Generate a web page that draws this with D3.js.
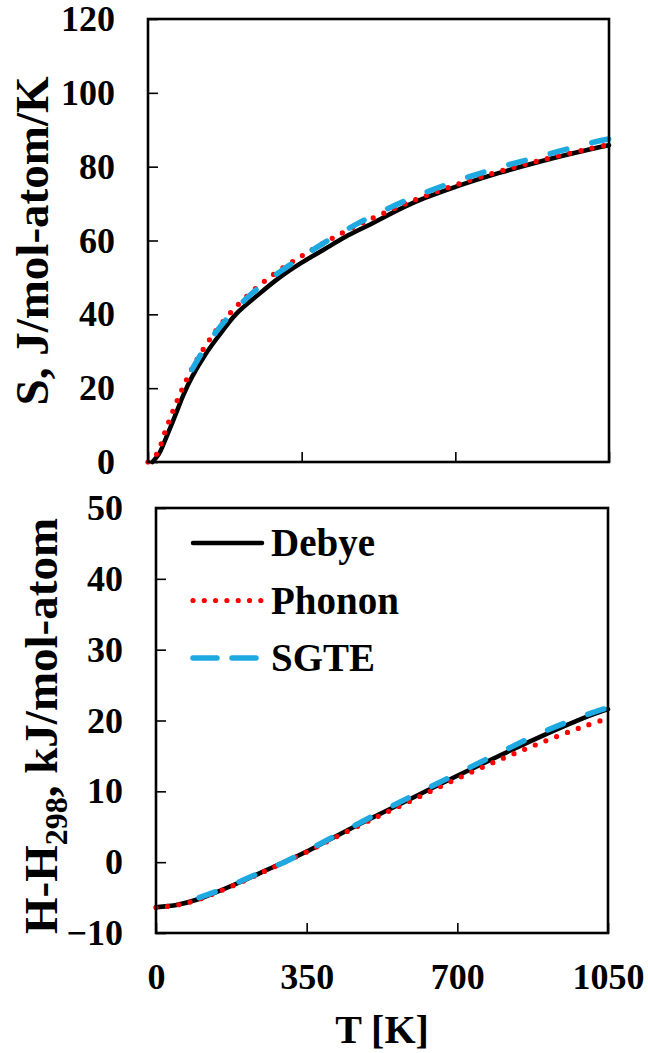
<!DOCTYPE html>
<html>
<head>
<meta charset="utf-8">
<title>S and H-H298 vs T</title>
<style>
    body { margin: 0; background: #fff; }
    svg text { font-family: "Liberation Serif", "Times New Roman", serif; font-weight: bold; fill: #000; }
    .axis path.domain { display: none; }
    .axis line { stroke: #000; stroke-width: 1.6px; }
    .axis text { font-size: 36px; }
    .frame { fill: none; stroke: #000; stroke-width: 2.6px; }
</style>
</head>
<body>
<script src="https://cdn.jsdelivr.net/npm/d3@7"></script>
<script>
// ---- data ----
// entropy, J/mol-atom/K
var tempSDebye  = [10, 25, 40, 60, 80, 100, 130, 160, 200, 250, 300, 350, 400, 450, 500, 600, 700, 800, 900, 1000, 1050];
var sDebye      = [0, 2.2, 6.2, 12, 18, 23, 29, 34, 40, 45.2, 50, 54, 57.5, 61, 64, 70, 74.5, 78.3, 81.6, 84.5, 85.8];
var tempSPhonon = [0, 20, 40, 60, 80, 100, 130, 160, 200, 250, 300, 350, 400, 450, 500, 600, 700, 800, 900, 1000, 1050];
var sPhonon     = [0, 2.2, 8.6, 14.8, 20.3, 25.3, 31.3, 36.4, 42, 47.5, 52, 55.8, 59.3, 62.5, 65.4, 70.6, 75, 78.7, 81.9, 84.7, 86];
var tempSSgte   = [100, 130, 160, 200, 250, 300, 350, 400, 450, 500, 600, 700, 800, 900, 1000, 1050];
var sSgte       = [25, 31, 36, 41.5, 47, 51.5, 55.5, 59.3, 62.8, 66, 71.5, 76, 79.8, 83, 86.2, 87.5];

// enthalpy H-H298, kJ/mol-atom
var tempH       = [0, 50, 100, 150, 200, 250, 298, 350, 400, 500, 600, 700, 800, 900, 1000, 1050];
var hDebye      = [-6.35, -6.0, -5.2, -4.0, -2.7, -1.3, 0, 1.5, 3.1, 6.2, 9.2, 12.2, 15.1, 17.9, 20.5, 21.6];
var hPhonon     = [-6.4, -6.05, -5.25, -4.05, -2.75, -1.35, 0, 1.45, 3.0, 6.0, 8.9, 11.8, 14.5, 17.0, 19.3, 20.3];
var tempHSgte   = [100, 150, 200, 250, 298, 350, 400, 500, 600, 700, 800, 900, 1000, 1050];
var hSgte       = [-5.0, -3.9, -2.6, -1.25, 0, 1.6, 3.2, 6.4, 9.5, 12.5, 15.5, 18.4, 20.8, 21.8];

var xTicks = [0, 350, 700, 1050];
var sTicks = [0, 20, 40, 60, 80, 100, 120];
var hTicks = [-10, 0, 10, 20, 30, 40, 50];
var seriesNames = ["Debye", "Phonon", "SGTE"];

// ---- styles ----
var styles = {
    Debye:  { stroke: "#000", width: 4.5, dash: null, legendDash: null },
    Phonon: { stroke: "#ff0000", width: 5.2, dash: "0,11.5", legendDash: "0,11.3" },
    SGTE:   { stroke: "#1fa9e1", width: 5.5, dash: "17,26", legendDash: "24,15" }
};

var svg = d3.select("body").append("svg").attr("width", 648).attr("height", 1053);

function zip(xs, ys) {
    return xs.map(function (x, i) { return [x, ys[i]]; });
}

function drawPanel(p) {
    var x = d3.scaleLinear().domain([0, 1050]).range([p.left, p.right]);
    var y = d3.scaleLinear().domain(p.yDomain).range([p.bottom, p.top]);

    var xAxis = d3.axisBottom(x).tickValues(xTicks).tickFormat(d3.format("d"))
        .tickSizeInner(-10).tickSizeOuter(0).tickPadding(30);
    var yAxis = d3.axisLeft(y).tickValues(p.yTicks).tickFormat(d3.format("d"))
        .tickSizeInner(-10).tickSizeOuter(0).tickPadding(33);

    var gx = svg.append("g").attr("class", "axis")
        .attr("transform", "translate(0," + p.bottom + ")")
        .call(xAxis);
    if (!p.xLabels) gx.selectAll("text").remove();

    svg.append("g").attr("class", "axis")
        .attr("transform", "translate(" + p.left + ",0)")
        .call(yAxis);

    var line = d3.line()
        .x(function (d) { return x(d[0]); })
        .y(function (d) { return y(d[1]); })
        .curve(d3.curveCatmullRom);

    p.series.forEach(function (s) {
        var st = styles[s.name];
        svg.append("path")
            .datum(zip(s.t, s.v))
            .attr("fill", "none")
            .attr("stroke", st.stroke)
            .attr("stroke-width", st.width)
            .attr("stroke-linecap", "round")
            .attr("stroke-linejoin", "round")
            .attr("stroke-dasharray", st.dash)
            .attr("d", line);
    });

    svg.append("rect").attr("class", "frame")
        .attr("x", p.left).attr("y", p.top)
        .attr("width", p.right - p.left).attr("height", p.bottom - p.top);

    return { x: x, y: y };
}

// top panel: entropy
drawPanel({
    left: 148, right: 609, top: 19, bottom: 462,
    yDomain: [0, 120], yTicks: sTicks, xLabels: false,
    series: [
        { name: "Debye", t: tempSDebye, v: sDebye },
        { name: "Phonon", t: tempSPhonon, v: sPhonon },
        { name: "SGTE", t: tempSSgte, v: sSgte }
    ]
});

// bottom panel: enthalpy
drawPanel({
    left: 156, right: 608, top: 508, bottom: 933,
    yDomain: [-10, 50], yTicks: hTicks, xLabels: true,
    series: [
        { name: "Debye", t: tempH, v: hDebye },
        { name: "Phonon", t: tempH, v: hPhonon },
        { name: "SGTE", t: tempHSgte, v: hSgte }
    ]
});

// axis titles
svg.append("text")
    .attr("transform", "translate(48,241) rotate(-90)")
    .attr("text-anchor", "middle")
    .style("font-size", "47px")
    .text("S, J/mol-atom/K");

var hTitle = svg.append("text")
    .attr("transform", "translate(57,726) rotate(-90)")
    .attr("text-anchor", "middle")
    .style("font-size", "47px");
hTitle.append("tspan").text("H-H");
hTitle.append("tspan").attr("dy", "0.3em").style("font-size", "32px").text("298");
hTitle.append("tspan").attr("dy", "-0.2em").text(", kJ/mol-atom");

svg.append("text")
    .attr("x", 382).attr("y", 1043)
    .attr("text-anchor", "middle")
    .style("font-size", "40px")
    .text("T [K]");

// legend
var legend = svg.append("g").attr("transform", "translate(193,543)");
seriesNames.forEach(function (name, i) {
    var st = styles[name];
    var row = legend.append("g").attr("transform", "translate(0," + (i * 57.5) + ")");
    row.append("line")
        .attr("x1", 0).attr("x2", 69).attr("y1", 0).attr("y2", 0)
        .attr("stroke", st.stroke)
        .attr("stroke-width", st.width)
        .attr("stroke-linecap", "round")
        .attr("stroke-dasharray", st.legendDash);
    row.append("text")
        .attr("x", 78).attr("y", 13)
        .style("font-size", "39px")
        .text(name);
});
</script>
</body>
</html>
